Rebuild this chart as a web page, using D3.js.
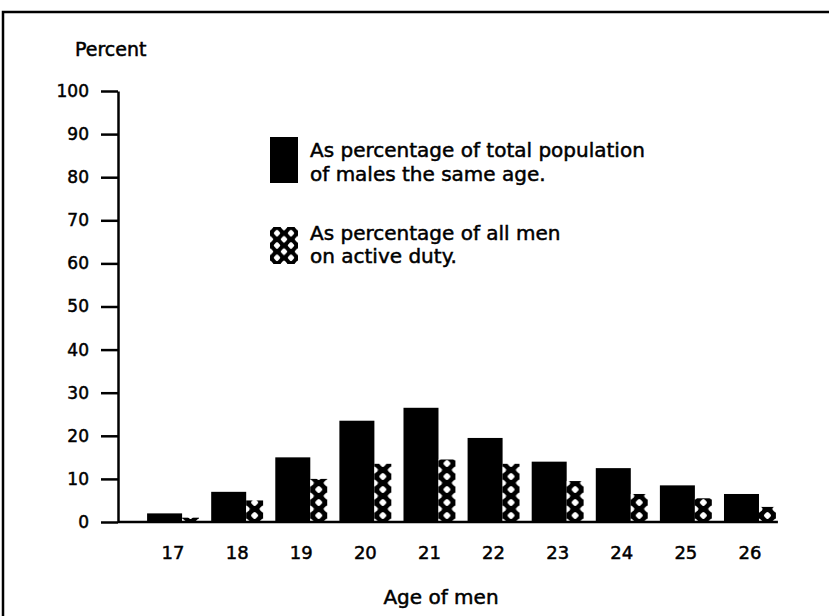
<!DOCTYPE html>
<html>
<head>
<meta charset="utf-8">
<script src="https://cdn.jsdelivr.net/npm/d3@7"></script>
<style>
  body { margin: 0; background: #fff; }
  svg { display: block; }
  text { font-family: "DejaVu Sans", sans-serif; fill: #000; stroke: #000; stroke-width: 0.5px; }
</style>
</head>
<body>
<svg id="chart" width="829" height="616"></svg>
<script>
// Men on active duty, by single year of age
const ages = ["17", "18", "19", "20", "21", "22", "23", "24", "25", "26"];
// share of all males of that age
const pctOfPopulation = [2, 7, 15, 23.5, 26.5, 19.5, 14, 12.5, 8.5, 6.5];
// share of all men on active duty
const pctOfActiveDuty = [1, 5, 10, 13.5, 14.5, 13.5, 9.5, 6.5, 5.5, 3.5];
const yTicks = [0, 10, 20, 30, 40, 50, 60, 70, 80, 90, 100];
const legendLines = [
  ["As percentage of total population", "of males the same age."],
  ["As percentage of all men", "on active duty."]
];

const svg = d3.select("#chart");
const defs = svg.append("defs");

const axisX = 118;
const y = d3.scaleLinear().domain([0, 100]).range([522, 91]);
const x = d3.scaleBand().domain(ages).range([141, 782])
  .paddingInner(0.19).paddingOuter(0.095);
const solidW = Math.round(x.bandwidth() * 0.675);
const hatchW = x.bandwidth() - solidW;
const cellH = 13;

// frame
svg.append("path")
  .attr("d", "M3,616V12H829")
  .attr("fill", "none").attr("stroke", "#000").attr("stroke-width", 2.5);

// lattice fill: black crossing bands with white rounded holes between them
function addHatch(id, px, py, w, h, r) {
  const p = defs.append("pattern")
    .attr("id", id).attr("patternUnits", "userSpaceOnUse")
    .attr("x", px).attr("y", py).attr("width", w).attr("height", h);
  p.append("rect").attr("width", w).attr("height", h).attr("fill", "#000");
  const holes = [[w / 2, h / 2], [0, 0], [w, 0], [0, h], [w, h]];
  p.selectAll("rect.hole").data(holes).join("rect")
    .attr("class", "hole")
    .attr("x", -r).attr("y", -r).attr("width", 2 * r).attr("height", 2 * r)
    .attr("rx", r * 0.55)
    .attr("transform", d => `translate(${d[0]},${d[1]}) rotate(45)`)
    .attr("fill", "#fff");
}

const rows = ages.map((a, i) => ({ age: a, pop: pctOfPopulation[i], duty: pctOfActiveDuty[i], i }));
rows.forEach(d => addHatch("hatch-" + d.i, x(d.age) + solidW, y(0), hatchW, cellH, 2.9));

// y axis
const yAxis = d3.axisLeft(y).tickValues(yTicks).tickSize(17).tickSizeOuter(0).tickPadding(12);
const gy = svg.append("g").attr("transform", `translate(${axisX},0)`).call(yAxis);
gy.select(".domain").attr("stroke", "#000").attr("stroke-width", 2.5);
gy.selectAll(".tick line").attr("stroke", "#000").attr("stroke-width", 2.5);
gy.selectAll(".tick text").style("font-size", "17px").style("font-family", "DejaVu Sans");

svg.append("text").attr("x", 75).attr("y", 56).style("font-size", "19px").text("Percent");

// bars
svg.append("g").selectAll("rect").data(rows).join("rect")
  .attr("x", d => x(d.age)).attr("width", solidW)
  .attr("y", d => y(d.pop)).attr("height", d => y(0) - y(d.pop))
  .attr("fill", "#000");

svg.append("g").selectAll("rect").data(rows).join("rect")
  .attr("x", d => x(d.age) + solidW).attr("width", hatchW)
  .attr("y", d => y(d.duty)).attr("height", d => y(0) - y(d.duty))
  .attr("fill", d => `url(#hatch-${d.i})`);

// baseline
svg.append("line")
  .attr("x1", axisX).attr("x2", x(ages[ages.length - 1]) + x.bandwidth() + 2)
  .attr("y1", y(0)).attr("y2", y(0))
  .attr("stroke", "#000").attr("stroke-width", 2.5);

// x axis labels
const xAxis = d3.axisBottom(x).tickSize(0).tickPadding(24);
const gx = svg.append("g").attr("transform", `translate(0,${y(0)})`).call(xAxis);
gx.select(".domain").remove();
gx.selectAll(".tick text").style("font-size", "18px").style("font-family", "DejaVu Sans");

svg.append("text").attr("x", 441).attr("y", 604).attr("text-anchor", "middle")
  .style("font-size", "20px").text("Age of men");

// legend
const lg = svg.append("g");
lg.append("rect").attr("x", 270).attr("y", 137).attr("width", 28).attr("height", 46).attr("fill", "#000");
addHatch("hatch-legend", 270, 227, 14, 12.3, 2.7);
lg.append("rect").attr("x", 270).attr("y", 227).attr("width", 28).attr("height", 37)
  .attr("fill", "url(#hatch-legend)");
const lineY = [[157, 181], [240, 263]];
legendLines.forEach((lines, k) => {
  lines.forEach((t, j) => {
    lg.append("text").attr("x", 310).attr("y", lineY[k][j]).style("font-size", "20px").text(t);
  });
});
</script>
</body>
</html>
